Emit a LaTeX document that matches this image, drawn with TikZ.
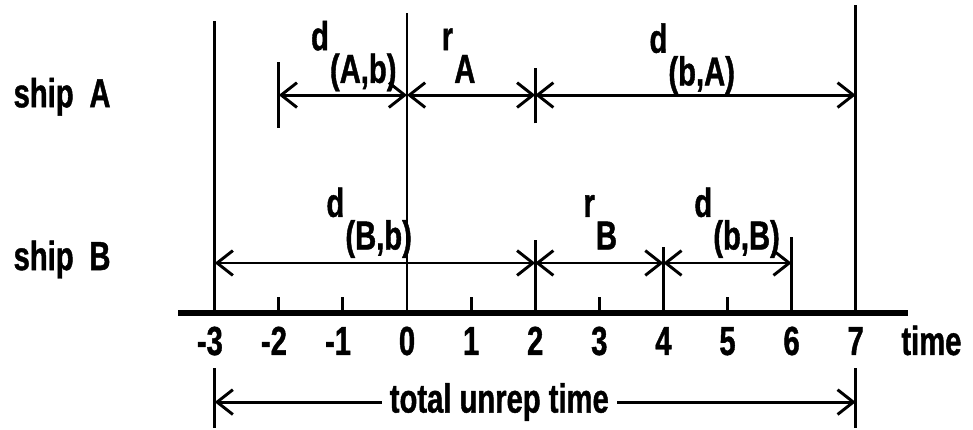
\documentclass[tikz,border=0pt]{standalone}
\usepackage{fontspec}
\setmainfont{Liberation Sans}[FakeStretch=0.72, FakeBold=1]
\usetikzlibrary{arrows.meta}

\newcommand{\sublbl}[2]{#1\hspace{0.5pt}\raisebox{-14.5pt}{#2}}

\begin{document}
\begin{tikzpicture}[line width=1.3pt,
  lbltext/.style={font=\fontsize{18}{20}\selectfont\bfseries, inner sep=0pt},
  dimline/.style={{Straight Barb[length=7pt,width=11pt]}-{Straight Barb[length=7pt,width=11pt]}}]
  \useasboundingbox (-6.35,-1.825) rectangle (8.83,4.883);

  % Time axis
  \draw[line width=2.4pt] (-3.57,0) -- (7.82,0);
  \foreach \t in {-2,-1,1,3,5}
    \draw (\t,0) -- (\t,0.25);
  \foreach \t/\s in {-3/3,-2/2,-1/1}
    \node[lbltext, anchor=base] (lm\s) at (\t,-0.655) {\llap{-}\s};
  \foreach \t in {0,...,7}
    \node[lbltext, anchor=base] (l\t) at (\t,-0.655) {\t};
  \node[lbltext, anchor=base west] (timelbl) at (7.69,-0.655) {time};

  % Guide lines
  \draw (-3,0) -- (-3,4.55);
  \draw (0,0) -- (0,4.68);
  \draw (7,0) -- (7,4.80);

  % Ship A
  \node[lbltext, anchor=base west] (shipA) at (-6.16,3.21) {ship\hspace{7pt}A};
  \coordinate (Am2) at (-2,3.40);
  \coordinate (A0) at (0,3.40);
  \coordinate (A2) at (2,3.40);
  \coordinate (A7) at (7,3.40);
  \draw (-2,2.89) -- (-2,3.92);
  \draw (2,2.96) -- (2,3.82);
  \draw[dimline] (Am2) -- (A0);
  \draw[dimline] (A0) -- (A2);
  \draw[dimline] (A2) -- (A7);
  \node[lbltext, anchor=base west] (dAb) at (-1.52,4.10) {\sublbl{d}{(A,b)}};
  \node[lbltext, anchor=base west] (rA) at (0.52,4.10) {\sublbl{r}{A}};
  \node[lbltext, anchor=base west] (dbA) at (3.76,4.06) {\sublbl{d}{(b,A)}};

  % Ship B
  \node[lbltext, anchor=base west] (shipB) at (-6.16,0.67) {ship\hspace{7pt}B};
  \coordinate (Bm3) at (-3,0.78);
  \coordinate (B2) at (2,0.78);
  \coordinate (B4) at (4,0.78);
  \coordinate (B6) at (6,0.78);
  \draw (2,0) -- (2,1.14);
  \draw (4,0) -- (4,1.03);
  \draw (6,0) -- (6,1.19);
  \draw[dimline] (Bm3) -- (B2);
  \draw[dimline] (B2) -- (B4);
  \draw[dimline] (B4) -- (B6);
  \node[lbltext, anchor=base west] (dBb) at (-1.28,1.50) {\sublbl{d}{(B,b)}};
  \node[lbltext, anchor=base west] (rB) at (2.73,1.50) {\sublbl{r}{B}};
  \node[lbltext, anchor=base west] (dbB) at (4.46,1.50) {\sublbl{d}{(b,B)}};

  % Total unrep time
  \coordinate (totL) at (-3,-1.39);
  \coordinate (totR) at (7,-1.39);
  \draw (-3,-0.86) -- (-3,-1.79);
  \draw (7,-0.86) -- (7,-1.79);
  \node[lbltext, inner xsep=3pt] (total) at (1.44,-1.39) {total unrep time};
  \draw[-{Straight Barb[length=7pt,width=11pt]}] (total) -- (totL);
  \draw[-{Straight Barb[length=7pt,width=11pt]}] (total) -- (totR);
\end{tikzpicture}
\end{document}
